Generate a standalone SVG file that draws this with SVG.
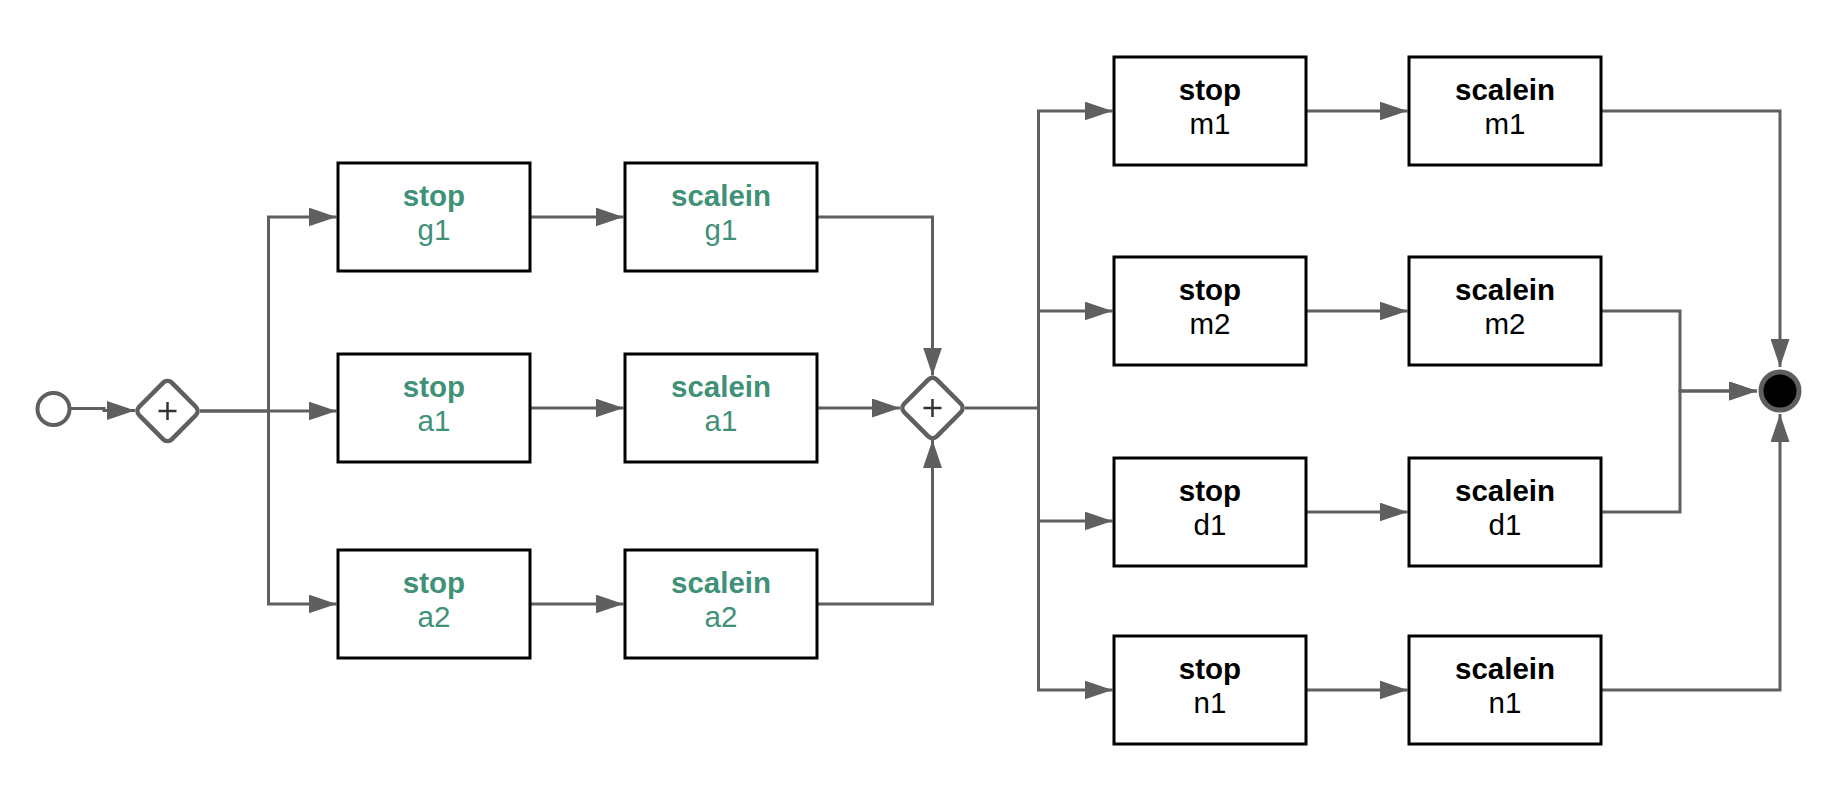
<svg xmlns="http://www.w3.org/2000/svg" width="1846" height="796" viewBox="0 0 1846 796">
<style>
.task rect{fill:#fff;stroke:#000;stroke-width:3}
.t1{font-family:"Liberation Sans",Arial,sans-serif;font-size:29.5px;font-weight:bold;text-anchor:middle}
.t2{font-family:"Liberation Sans",Arial,sans-serif;font-size:29.5px;text-anchor:middle}
.green text{fill:#3f9178}
.black text{fill:#000}
.flow path{fill:none;stroke:#5f5f5f;stroke-width:3;marker-end:url(#arr)}
.gw rect{fill:#fff;stroke:#5f5f5f;stroke-width:4.5}
.gw path{stroke:#333;stroke-width:2.5;fill:none}
</style>
<defs>
<marker id="arr" markerUnits="userSpaceOnUse" markerWidth="28" markerHeight="19" refX="28" refY="9.5" orient="auto">
<path d="M0,0 L28,9.5 L0,19 Z" fill="#5f5f5f"/>
</marker>
</defs>
<rect width="1846" height="796" fill="#fff"/>
<g id="connectors" class="flow">
<path d="M70,408.5 H104 V410.5 H135"/>
<path d="M200,411 H268.5 V217 H336.5"/>
<path d="M200,411 H336.5"/>
<path d="M268.5,411 V604 H336.5"/>
<path d="M530,217 H623.5"/>
<path d="M530,408 H623.5"/>
<path d="M530,604 H623.5"/>
<path d="M817,217 H932.5 V375.5"/>
<path d="M817,408 H900"/>
<path d="M817,604 H932.5 V440"/>
<path d="M965,408 H1038.5 V111 H1112.5"/>
<path d="M1038.5,408 V311 H1112.5"/>
<path d="M1038.5,408 V521 H1112.5"/>
<path d="M1038.5,408 V690 H1112.5"/>
<path d="M1306,111 H1407.5"/>
<path d="M1306,311 H1407.5"/>
<path d="M1306,512 H1407.5"/>
<path d="M1306,690 H1407.5"/>
<path d="M1601,111 H1780 V367"/>
<path d="M1601,311 H1680 V391 H1757"/>
<path d="M1601,512 H1680 V391 H1757"/>
<path d="M1601,690 H1780 V414"/>
</g>
<g id="start"><circle cx="53.5" cy="409" r="16" fill="#fff" stroke="#5f5f5f" stroke-width="4"/></g>
<g id="gw1" class="gw"><rect x="-23" y="-23" width="46" height="46" rx="6" transform="translate(167.5,411) rotate(45)"/><path d="M158.5,411 H176.5 M167.5,402 V420"/></g>
<g id="gw2" class="gw"><rect x="-23" y="-23" width="46" height="46" rx="6" transform="translate(932.5,408) rotate(45)"/><path d="M923.5,408 H941.5 M932.5,399 V417"/></g>
<g id="end"><circle cx="1780" cy="391" r="19" fill="#000" stroke="#5f5f5f" stroke-width="5"/></g>
<g id="stop_g1" class="task green"><rect x="338" y="163" width="192" height="108"/><text class="t1" x="434" y="206">stop</text><text class="t2" x="434" y="239.5">g1</text></g>
<g id="stop_a1" class="task green"><rect x="338" y="354" width="192" height="108"/><text class="t1" x="434" y="397">stop</text><text class="t2" x="434" y="430.5">a1</text></g>
<g id="stop_a2" class="task green"><rect x="338" y="550" width="192" height="108"/><text class="t1" x="434" y="593">stop</text><text class="t2" x="434" y="626.5">a2</text></g>
<g id="scalein_g1" class="task green"><rect x="625" y="163" width="192" height="108"/><text class="t1" x="721" y="206">scalein</text><text class="t2" x="721" y="239.5">g1</text></g>
<g id="scalein_a1" class="task green"><rect x="625" y="354" width="192" height="108"/><text class="t1" x="721" y="397">scalein</text><text class="t2" x="721" y="430.5">a1</text></g>
<g id="scalein_a2" class="task green"><rect x="625" y="550" width="192" height="108"/><text class="t1" x="721" y="593">scalein</text><text class="t2" x="721" y="626.5">a2</text></g>
<g id="stop_m1" class="task black"><rect x="1114" y="57" width="192" height="108"/><text class="t1" x="1210" y="100">stop</text><text class="t2" x="1210" y="133.5">m1</text></g>
<g id="stop_m2" class="task black"><rect x="1114" y="257" width="192" height="108"/><text class="t1" x="1210" y="300">stop</text><text class="t2" x="1210" y="333.5">m2</text></g>
<g id="stop_d1" class="task black"><rect x="1114" y="458" width="192" height="108"/><text class="t1" x="1210" y="501">stop</text><text class="t2" x="1210" y="534.5">d1</text></g>
<g id="stop_n1" class="task black"><rect x="1114" y="636" width="192" height="108"/><text class="t1" x="1210" y="679">stop</text><text class="t2" x="1210" y="712.5">n1</text></g>
<g id="scalein_m1" class="task black"><rect x="1409" y="57" width="192" height="108"/><text class="t1" x="1505" y="100">scalein</text><text class="t2" x="1505" y="133.5">m1</text></g>
<g id="scalein_m2" class="task black"><rect x="1409" y="257" width="192" height="108"/><text class="t1" x="1505" y="300">scalein</text><text class="t2" x="1505" y="333.5">m2</text></g>
<g id="scalein_d1" class="task black"><rect x="1409" y="458" width="192" height="108"/><text class="t1" x="1505" y="501">scalein</text><text class="t2" x="1505" y="534.5">d1</text></g>
<g id="scalein_n1" class="task black"><rect x="1409" y="636" width="192" height="108"/><text class="t1" x="1505" y="679">scalein</text><text class="t2" x="1505" y="712.5">n1</text></g>
</svg>
